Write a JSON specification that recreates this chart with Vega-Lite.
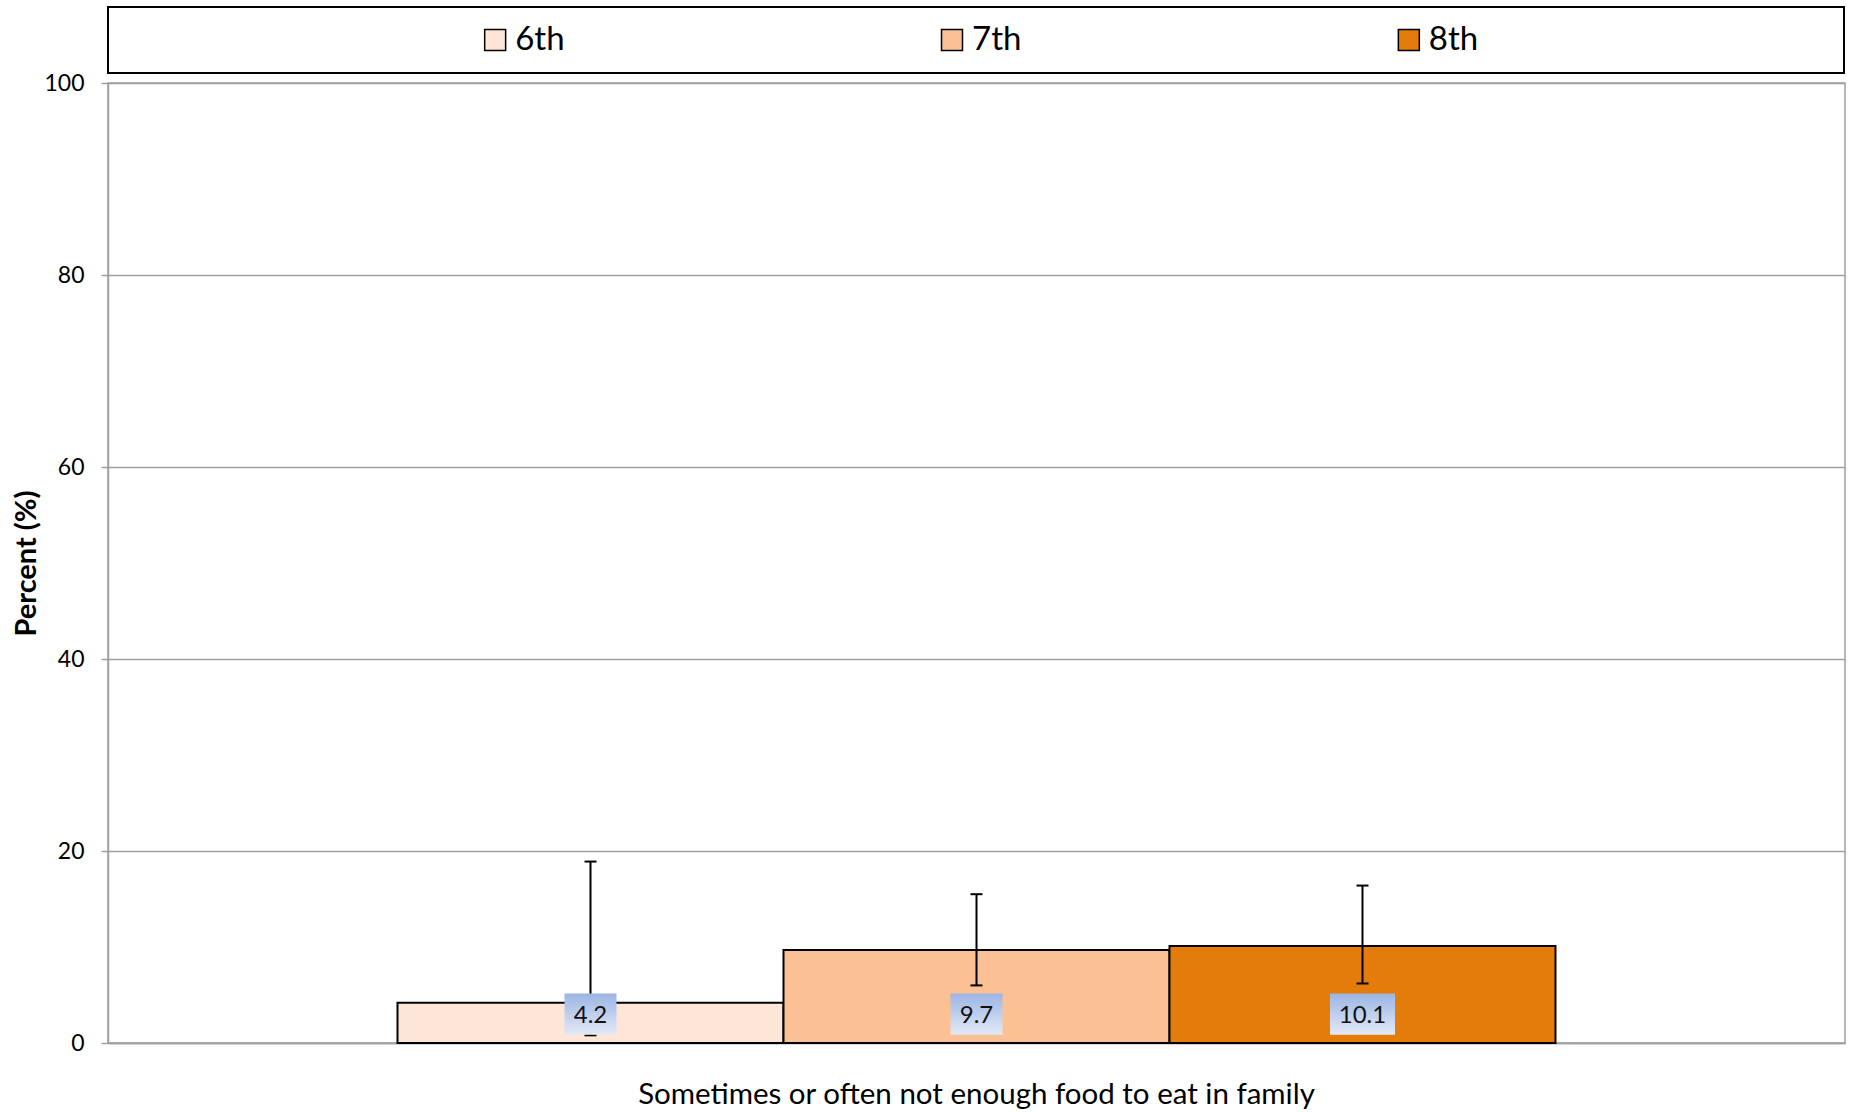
{
  "$schema": "https://vega.github.io/schema/vega-lite/v6.json",
  "padding": {"left": 12, "top": 6, "right": 5, "bottom": 5},
  "background": "white",
  "config": {"font": "Lato", "view": {"stroke": null}},
  "spacing": 10,
  "bounds": "flush",
  "datasets": {
    "grades": [
      {"question": "Sometimes or often not enough food to eat in family", "grade": "6th", "pct": 4.2, "lo": 0.8, "hi": 18.9},
      {"question": "Sometimes or often not enough food to eat in family", "grade": "7th", "pct": 9.7, "lo": 6.0, "hi": 15.5},
      {"question": "Sometimes or often not enough food to eat in family", "grade": "8th", "pct": 10.1, "lo": 6.2, "hi": 16.4}
    ]
  },
  "vconcat": [
    {
      "width": 1736,
      "height": 66,
      "view": {"stroke": "black", "strokeWidth": 2},
      "data": {"name": "grades"},
      "encoding": {
        "x": {"field": "grade", "type": "nominal", "scale": {"type": "point", "padding": 0.9}, "axis": null}
      },
      "layer": [
        {
          "mark": {"type": "point", "shape": "square", "filled": true, "size": 440, "stroke": "black", "strokeWidth": 1.5, "opacity": 1, "xOffset": -24},
          "encoding": {
            "fill": {"field": "grade", "type": "nominal", "scale": {"domain": ["6th", "7th", "8th"], "range": ["#fde5d8", "#fbc194", "#e37c0a"]}, "legend": null}
          }
        },
        {
          "mark": {"type": "text", "align": "left", "baseline": "middle", "fontSize": 33, "dx": -4, "color": "black"},
          "encoding": {"text": {"field": "grade"}}
        }
      ]
    },
    {
      "width": 1737,
      "height": 960,
      "view": {"stroke": "#a0a0a0", "strokeWidth": 1.5},
      "data": {"name": "grades"},
      "encoding": {
        "x": {"field": "question", "type": "nominal", "scale": {"paddingInner": 0, "paddingOuter": 0.25},
          "axis": {"title": null, "ticks": false, "labelFontSize": 29.5, "labelPadding": 37, "labelLimit": 0, "labelAngle": 0, "labelColor": "black", "domainColor": "#a0a0a0", "domainWidth": 1.5}},
        "xOffset": {"field": "grade", "type": "nominal", "scale": {"paddingInner": 0, "paddingOuter": 0}}
      },
      "layer": [
        {
          "mark": {"type": "bar", "stroke": "black", "strokeWidth": 2},
          "encoding": {
            "y": {"field": "pct", "type": "quantitative", "scale": {"domain": [0, 100]},
              "axis": {"title": "Percent (%)", "titleFontSize": 29, "titleFontWeight": "bold", "titleColor": "black", "titlePadding": 2,
                "values": [0, 20, 40, 60, 80, 100], "labelFontSize": 23, "labelColor": "black", "labelPadding": 17,
                "tickSize": 7, "tickColor": "#a0a0a0", "tickWidth": 1.5, "domainColor": "#a0a0a0", "domainWidth": 1.5,
                "grid": true, "gridColor": "#a0a0a0", "gridWidth": 1.5}},
            "fill": {"field": "grade", "type": "nominal", "legend": null}
          }
        },
        {
          "mark": {"type": "rule", "strokeWidth": 2, "color": "black"},
          "encoding": {"y": {"field": "lo", "type": "quantitative"}, "y2": {"field": "hi"}}
        },
        {
          "mark": {"type": "tick", "orient": "horizontal", "size": 12, "thickness": 2, "color": "black", "opacity": 1},
          "encoding": {"y": {"field": "lo", "type": "quantitative"}}
        },
        {
          "mark": {"type": "tick", "orient": "horizontal", "size": 12, "thickness": 2, "color": "black", "opacity": 1},
          "encoding": {"y": {"field": "hi", "type": "quantitative"}}
        },
        {
          "mark": {"type": "bar", "fill": {"gradient": "linear", "x1": 0, "y1": 0, "x2": 0, "y2": 1, "stops": [{"offset": 0, "color": "#9bb5e4"}, {"offset": 1, "color": "#e2e9f6"}]}},
          "encoding": {
            "y": {"datum": 5.16, "type": "quantitative"},
            "y2": {"datum": 0.86},
            "size": {"condition": {"test": "datum.pct >= 10", "value": 65}, "value": 52}
          }
        },
        {
          "mark": {"type": "text", "fontSize": 24, "baseline": "middle", "color": "#111111", "dy": 2},
          "encoding": {
            "y": {"datum": 3.0, "type": "quantitative"},
            "text": {"field": "pct", "type": "quantitative", "format": ".1f"}
          }
        }
      ]
    }
  ]
}
